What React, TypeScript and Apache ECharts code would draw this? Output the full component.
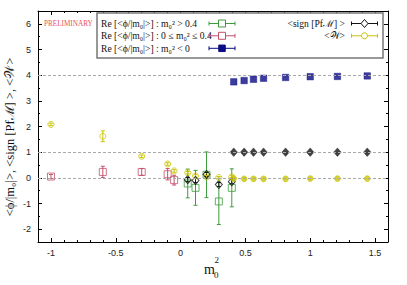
import React, { useEffect, useRef } from "react";
import * as echarts from "echarts";

// ---- data ----
const xNeg = [-1.0, -0.6, -0.3, -0.1, -0.05];
const xSmall = [0.055, 0.115, 0.2, 0.295, 0.395];
const xLarge = [0.41, 0.49, 0.5625, 0.64, 0.81, 1.0, 1.21, 1.44];

// Re <phi/|m0|> (red), region m0^2 < 0 points
const redY = [0.05, 0.23, 0.23, 0.14, -0.09];
const redErr = [0.08, 0.22, 0.13, 0.22, 0.19];

// Re <phi/|m0|> (green), small positive m0^2
const greenY = [-0.22, -0.39, 0.12, -0.92, -0.39];
const greenErr = [0.56, 0.68, 0.89, 0.9, 0.74];

// Re <phi/|m0|> (blue), large m0^2
const blueY = [3.74, 3.79, 3.84, 3.88, 3.91, 3.94, 3.95, 3.97];

// <sign [PfM]>
const signOpenY = [-0.07, -0.1, 0.13, -0.26, -0.15];
const signOpenErr = [0.08, 0.08, 0.08, 0.08, 0.08];
const signFilledY = [1, 1, 1, 1, 1, 1, 1, 1];

// <W>
const wOpenX = [-1.0, -0.6, -0.3, -0.1, -0.05, 0.055, 0.115, 0.2, 0.295, 0.395];
const wOpenY = [2.08, 1.62, 0.84, 0.54, 0.27, 0.2, 0.07, 0.04, 0.01, 0.04];
const wOpenErr = [0.05, 0.21, 0.05, 0.05, 0.05, 0.05, 0.05, 0.05, 0.04, 0.04];
const wFilledY = [-0.03, -0.04, -0.04, -0.04, -0.04, -0.03, -0.03, -0.03];

const refLines = [0, 1, 4];

// ---- axes ticks ----
const xMajor = [-1, -0.5, 0, 0.5, 1, 1.5];
const xMinor = [-1.1, -0.9, -0.8, -0.7, -0.6, -0.4, -0.3, -0.2, -0.1, 0.1, 0.2, 0.3, 0.4, 0.6, 0.7, 0.8, 0.9, 1.1, 1.2, 1.3, 1.4, 1.6];
const yMajor = [-2, -1, 0, 1, 2, 3, 4, 5, 6];
const yMinor = [-2.5, -1.5, -0.5, 0.5, 1.5, 2.5, 3.5, 4.5, 5.5, 6.5];

const X_MIN = -1.1, X_MAX = 1.6, Y_MIN = -2.5, Y_MAX = 6.5;

const GREEN = "#3c9c3c";
const RED = "#c4506a";
const BLUE = "#0b0b85";
const BLACK = "#111111";
const YELLOW = "#c9c400";

const SERIF = "'Liberation Serif', 'DejaVu Serif', serif";
const SANS = "'Liberation Sans', 'DejaVu Sans', sans-serif";

function errData(xs: number[], ys: number[], es: number[]) {
  return xs.map((x, i) => [x, ys[i] - es[i], ys[i] + es[i]]);
}
function pts(xs: number[], ys: number[]) {
  return xs.map((x, i) => [x, ys[i]]);
}

function errSeries(name: string, data: number[][], color: string) {
  return {
    type: "custom",
    name,
    data,
    silent: true,
    z: 2,
    renderItem: (params: any, api: any) => {
      const x = api.value(0);
      const lo = api.value(1);
      const hi = api.value(2);
      const p1 = api.coord([x, hi]);
      const p2 = api.coord([x, lo]);
      const w = 2;
      const st = { stroke: color, lineWidth: 1 };
      return {
        type: "group",
        children: [
          { type: "line", shape: { x1: p1[0], y1: p1[1], x2: p2[0], y2: p2[1] }, style: st },
          { type: "line", shape: { x1: p1[0] - w, y1: p1[1], x2: p1[0] + w, y2: p1[1] }, style: st },
          { type: "line", shape: { x1: p2[0] - w, y1: p2[1], x2: p2[0] + w, y2: p2[1] }, style: st },
        ],
      };
    },
  };
}

function scatter(name: string, data: number[][], symbol: string, size: any, color: string, filled: boolean) {
  return {
    type: "scatter",
    name,
    data,
    symbol,
    symbolSize: size,
    z: 3,
    itemStyle: filled
      ? { color, borderColor: color, borderWidth: 0.5 }
      : { color: "rgba(0,0,0,0)", borderColor: color, borderWidth: 1 },
  };
}

function axisX(position: string, ticks: number[], len: number, labels: boolean, line: boolean) {
  return {
    type: "value",
    position,
    min: X_MIN,
    max: X_MAX,
    axisLine: { show: line, onZero: false, lineStyle: { color: "#000", width: 1 } },
    axisTick: { show: true, inside: true, length: len, customValues: ticks, lineStyle: { color: "#000", width: 1 } },
    axisLabel: labels
      ? { show: true, customValues: ticks, margin: 6, fontSize: 9, fontFamily: SANS, color: "#222", formatter: (v: number) => String(v) }
      : { show: false },
    splitLine: { show: false },
  };
}
function axisY(position: string, ticks: number[], len: number, labels: boolean, line: boolean) {
  return {
    type: "value",
    position,
    min: Y_MIN,
    max: Y_MAX,
    axisLine: { show: line, onZero: false, lineStyle: { color: "#000", width: 1 } },
    axisTick: { show: true, inside: true, length: len, customValues: ticks, lineStyle: { color: "#000", width: 1 } },
    axisLabel: labels
      ? { show: true, customValues: ticks, margin: 7, fontSize: 9, fontFamily: SANS, color: "#222", formatter: (v: number) => String(v) }
      : { show: false },
    splitLine: { show: false },
  };
}

function legendSample(cx: number, cy: number, color: string, marker: any) {
  const half = 13;
  const st = { stroke: color, lineWidth: 1 };
  return [
    { type: "line", z: 11, shape: { x1: cx - half, y1: cy, x2: cx + half, y2: cy }, style: st },
    { type: "line", z: 11, shape: { x1: cx - half, y1: cy - 2, x2: cx - half, y2: cy + 2 }, style: st },
    { type: "line", z: 11, shape: { x1: cx + half, y1: cy - 2, x2: cx + half, y2: cy + 2 }, style: st },
    { ...marker, z: 12 },
  ];
}

export default function App() {
  const ref = useRef<HTMLDivElement>(null);
  useEffect(() => {
    document.body.style.margin = "0";
    if (!ref.current) return;
    const chart = echarts.init(ref.current, undefined, { renderer: "svg" });

    const legendFont = { fontFamily: SERIF, fontSize: 9.6, fill: "#111" };
    const rows = [23.5, 35.8, 48.3];
    const lx = 222;
    const rx = 364.5;

    const option: any = {
      animation: false,
      backgroundColor: "#fff",
      grid: { left: 38, right: 19, top: 11, bottom: 43, containLabel: false },
      xAxis: [
        axisX("bottom", xMajor, 4, true, true),
        axisX("bottom", xMinor, 2, false, false),
        axisX("top", xMajor, 4, false, true),
        axisX("top", xMinor, 2, false, false),
      ],
      yAxis: [
        axisY("left", yMajor, 4, true, true),
        axisY("left", yMinor, 2, false, false),
        axisY("right", yMajor, 4, false, true),
        axisY("right", yMinor, 2, false, false),
      ],
      series: [
        {
          type: "scatter",
          name: "ref",
          data: [],
          silent: true,
          markLine: {
            silent: true,
            symbol: ["none", "none"],
            label: { show: false },
            lineStyle: { color: "#aaaaaa", type: [3, 2], width: 1 },
            data: refLines.map((v) => ({ yAxis: v })),
          },
        },
        errSeries("redErr", errData(xNeg, redY, redErr), RED),
        errSeries("greenErr", errData(xSmall, greenY, greenErr), GREEN),
        errSeries("signErr", errData(xSmall, signOpenY, signOpenErr), BLACK),
        errSeries("wErr", errData(wOpenX, wOpenY, wOpenErr), YELLOW),
        scatter("Re m0^2 < 0 (red)", pts(xNeg, redY), "rect", 7, RED, false),
        scatter("Re green", pts(xSmall, greenY), "rect", 7, GREEN, false),
        scatter("<sign [PfM]>", pts(xSmall, signOpenY), "diamond", [7, 8], BLACK, false),
        scatter("<W>", pts(wOpenX, wOpenY), "circle", 6, YELLOW, false),
        scatter("<W> filled", pts(xLarge, wFilledY), "circle", 6, YELLOW, true),
        scatter("<sign> filled", pts(xLarge, signFilledY), "diamond", [7.5, 8.5], BLACK, true),
        scatter("Re blue", pts(xLarge, blueY), "rect", 6.5, BLUE, true),
      ],
      graphic: [
        // legend box
        {
          type: "rect",
          z: 10,
          shape: { x: 97, y: 13, width: 286, height: 45 },
          style: { fill: "#fff", stroke: "#777", lineWidth: 1.5 },
        },
        {
          type: "text",
          z: 11,
          x: 44,
          y: 23.5,
          style: { text: "PRELIMINARY", fontFamily: SERIF, fontSize: 7.2, fill: "#e8505a", verticalAlign: "middle" },
        },
        { type: "text", z: 11, x: 101, y: rows[0], style: { ...legendFont, text: "Re [<ϕ/|m₀|>] : m₀² > 0.4", verticalAlign: "middle" } },
        { type: "text", z: 11, x: 101, y: rows[1], style: { ...legendFont, text: "Re [<ϕ/|m₀|>] : 0 ≤ m₀² ≤ 0.4", verticalAlign: "middle" } },
        { type: "text", z: 11, x: 101, y: rows[2], style: { ...legendFont, text: "Re [<ϕ/|m₀|>] : m₀² < 0", verticalAlign: "middle" } },
        { type: "text", z: 11, x: 345, y: rows[0], style: { ...legendFont, text: "<sign [Pfℳ] >", align: "right", verticalAlign: "middle" } },
        { type: "text", z: 11, x: 345, y: rows[1], style: { ...legendFont, text: "<𝒲>", align: "right", verticalAlign: "middle" } },
        ...legendSample(lx, rows[0], GREEN, { type: "rect", shape: { x: lx - 3.5, y: rows[0] - 3.5, width: 7, height: 7 }, style: { fill: "#fff", stroke: GREEN, lineWidth: 1 } }),
        ...legendSample(lx, rows[1], RED, { type: "rect", shape: { x: lx - 3.5, y: rows[1] - 3.5, width: 7, height: 7 }, style: { fill: "#fff", stroke: RED, lineWidth: 1 } }),
        ...legendSample(lx, rows[2], BLUE, { type: "rect", shape: { x: lx - 3.25, y: rows[2] - 3.25, width: 6.5, height: 6.5 }, style: { fill: BLUE, stroke: BLUE, lineWidth: 1 } }),
        ...legendSample(rx, rows[0], BLACK, { type: "polygon", shape: { points: [[rx, rows[0] - 4], [rx + 3.5, rows[0]], [rx, rows[0] + 4], [rx - 3.5, rows[0]]] }, style: { fill: "#fff", stroke: BLACK, lineWidth: 1 } }),
        ...legendSample(rx, rows[1], YELLOW, { type: "circle", shape: { cx: rx, cy: rows[1], r: 3 }, style: { fill: "#fff", stroke: YELLOW, lineWidth: 1 } }),
        // y axis title
        {
          type: "text",
          x: 10,
          y: 137,
          rotation: Math.PI / 2,
          style: {
            text: "<ϕ/|m₀|>, <sign [Pfℳ] >, <𝒲>",
            fontFamily: SERIF,
            fontSize: 12.5,
            fill: "#111",
            align: "center",
            verticalAlign: "middle",
          },
        },
        // x axis title m0^2
        { type: "text", x: 204, y: 269, style: { text: "m", fontFamily: SERIF, fontSize: 14, fill: "#111", verticalAlign: "middle" } },
        { type: "text", x: 214, y: 275, style: { text: "0", fontFamily: SERIF, fontSize: 9, fill: "#111", verticalAlign: "middle" } },
        { type: "text", x: 214.5, y: 260, style: { text: "2", fontFamily: SERIF, fontSize: 9, fill: "#111", verticalAlign: "middle" } },
      ],
    };
    chart.setOption(option);
    return () => chart.dispose();
  }, []);
  return <div ref={ref} style={{ width: 407, height: 285 }} />;
}
